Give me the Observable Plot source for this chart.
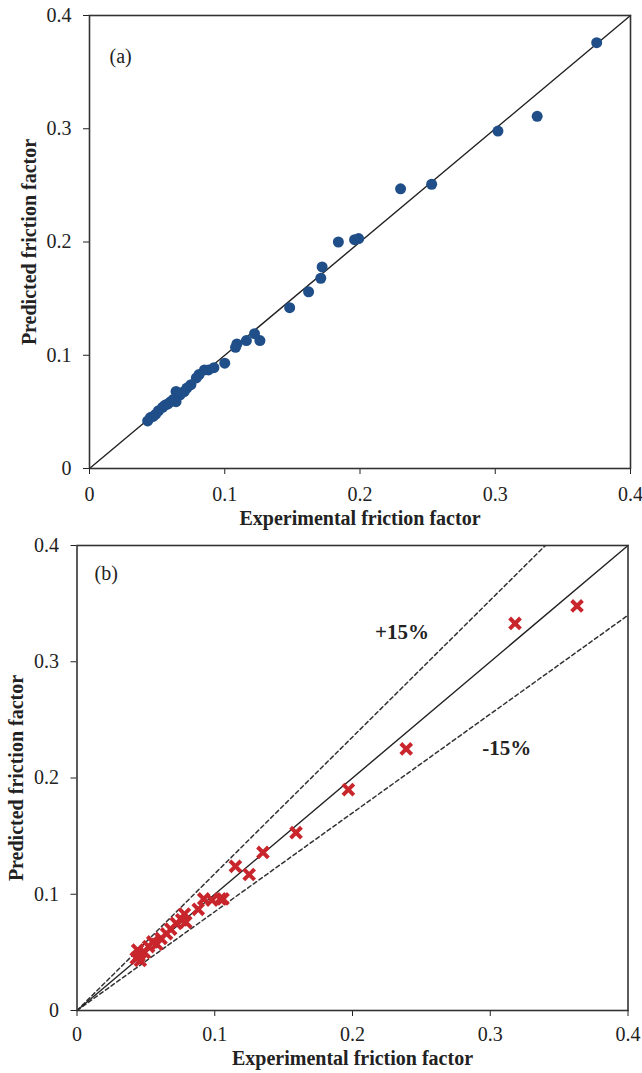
<!DOCTYPE html>
<html><head><meta charset="utf-8">
<script src="https://cdn.jsdelivr.net/npm/d3@7"></script>
<script src="https://cdn.jsdelivr.net/npm/@observablehq/plot@0.6"></script>
<style>
body{margin:0;background:#fff;}
#chart svg{display:block;overflow:visible;}
g[aria-label="x-axis label"] text, g[aria-label="y-axis label"] text{font-weight:bold;font-size:20px;}
</style></head><body><div id="chart"></div>
<script>
const ticks = [0, 0.1, 0.2, 0.3, 0.4];
const tickLabels = ["0", "0.1", "0.2", "0.3", "0.4"];
const xTitle = "Experimental friction factor";
const yTitle = "Predicted friction factor";

// Panel (a)
const expA  = [0.375,0.331,0.302,0.253,0.230,0.199,0.196,0.184,0.172,0.171,0.162,0.148,0.126,0.122,0.116,0.109,0.108,0.100,0.092,0.088,0.085,0.081,0.079,0.075,0.072,0.070,0.067,0.064,0.064,0.062,0.060,0.058,0.056,0.054,0.051,0.049,0.047,0.045,0.043];
const predA = [0.376,0.311,0.298,0.251,0.247,0.203,0.202,0.200,0.178,0.168,0.156,0.142,0.113,0.119,0.113,0.110,0.107,0.093,0.089,0.087,0.087,0.083,0.080,0.074,0.071,0.068,0.065,0.068,0.059,0.061,0.059,0.057,0.056,0.054,0.051,0.048,0.046,0.045,0.042];

// Panel (b)
const expB  = [0.363,0.318,0.239,0.197,0.159,0.135,0.115,0.125,0.106,0.104,0.098,0.092,0.088,0.078,0.076,0.072,0.079,0.068,0.065,0.061,0.058,0.055,0.052,0.049,0.045,0.044,0.046,0.043];
const predB = [0.348,0.333,0.225,0.190,0.153,0.136,0.124,0.117,0.096,0.096,0.095,0.096,0.087,0.083,0.078,0.075,0.076,0.070,0.066,0.062,0.057,0.059,0.055,0.050,0.047,0.052,0.043,0.045];

const parity = [0, 0.4];
const bandFactors = [1 / 0.85, 0.85];
const bandLabels = ["+15%", "-15%"];
const bandLabelX = [0.236, 0.312];
const bandLabelY = [0.325, 0.226];

const dataA = expA.map((x, i) => ({x, y: predA[i]}));
const dataB = expB.map((x, i) => ({x, y: predB[i]}));
const fmt = d => tickLabels[ticks.findIndex(t => Math.abs(t - d) < 1e-9)];
const font = '"Liberation Serif", "Times New Roman", serif';

function axes(xPad, xOff, yOff) {
  return {
    x: {domain: [0, 0.4], ticks, tickFormat: fmt, tickSize: 6, tickPadding: xPad, label: xTitle, labelAnchor: "center", labelOffset: xOff, labelArrow: "none"},
    y: {domain: [0, 0.4], ticks, tickFormat: fmt, tickSize: 6, tickPadding: 12, label: yTitle, labelAnchor: "center", labelOffset: yOff, labelArrow: "none"}
  };
}

const plotA = Plot.plot({
  width: 642, height: 530,
  marginTop: 15, marginBottom: 62, marginLeft: 89, marginRight: 12,
  style: {fontFamily: font, fontSize: "20px", color: "#222", background: "#fff"},
  ...axes(12, 56, 68),
  marks: [
    Plot.line(parity, {x: d => d, y: d => d, stroke: "#222", strokeWidth: 1.4}),
    Plot.dot(dataA, {x: "x", y: "y", r: 5.5, fill: "#1f4e88"}),
    Plot.frame({stroke: "#333", strokeWidth: 1.6}),
    Plot.text(["(a)"], {frameAnchor: "top-left", dx: 20, dy: 41, textAnchor: "start", lineAnchor: "middle", fontSize: 20})
  ]
});

const bands = bandFactors.flatMap((k, j) => parity.map(v => ({x: v, y: v * k, g: j})));
const bandText = bandLabels.map((t, i) => ({t, x: bandLabelX[i], y: bandLabelY[i]}));

const plotB = Plot.plot({
  width: 642, height: 543,
  marginTop: 15, marginBottom: 63, marginLeft: 76.5, marginRight: 14.5,
  style: {fontFamily: font, fontSize: "20px", color: "#222", background: "#fff"},
  ...axes(10, 54, 68),
  marks: [
    Plot.line(bands, {x: "x", y: "y", z: "g", stroke: "#333", strokeWidth: 1.5, strokeDasharray: "4,3", clip: true}),
    Plot.line(parity, {x: d => d, y: d => d, stroke: "#222", strokeWidth: 1.4}),
    Plot.dot(dataB, {x: "x", y: "y", r: 5, symbol: "times", stroke: "#c8262c", strokeWidth: 4}),
    Plot.frame({stroke: "#333", strokeWidth: 1.6}),
    Plot.text(bandText, {x: "x", y: "y", text: "t", fontSize: 21, fontWeight: "bold", fill: "#222"}),
    Plot.text(["(b)"], {frameAnchor: "top-left", dx: 17.5, dy: 28, textAnchor: "start", lineAnchor: "middle", fontSize: 20})
  ]
});

document.getElementById("chart").append(plotA, plotB);
</script></body></html>
